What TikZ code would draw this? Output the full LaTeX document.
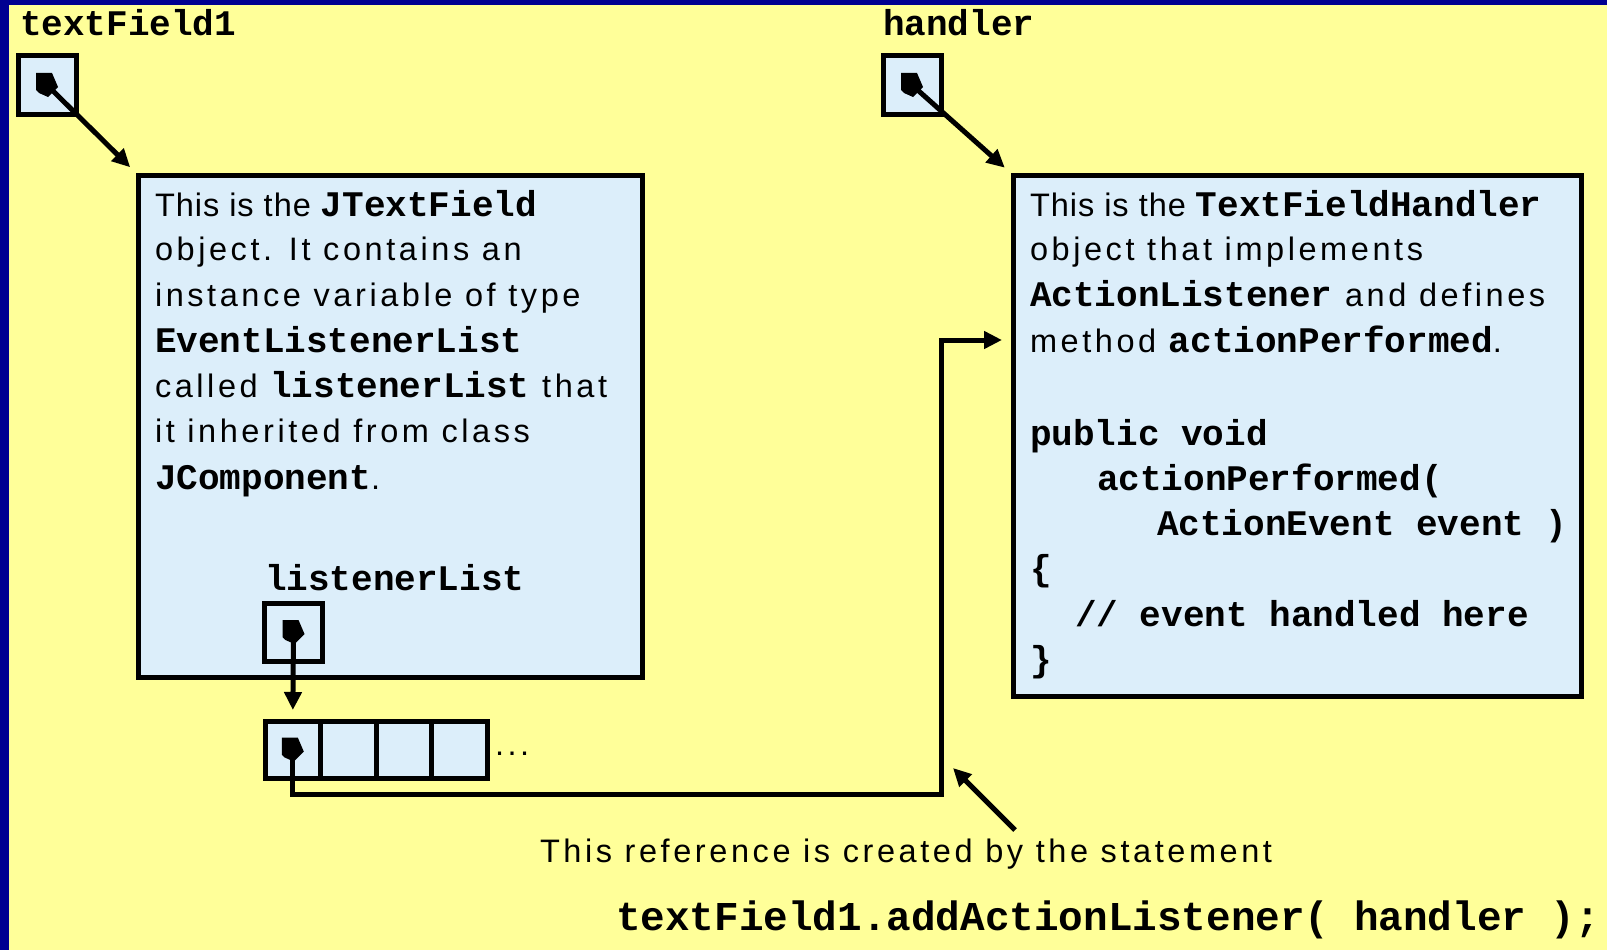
\documentclass[tikz,border=0pt]{standalone}
\usepackage{fontspec}
\setmainfont{Liberation Sans}
\setmonofont{Liberation Mono}
\newfontfamily\sansls[LetterSpace=11]{Liberation Sans}
\newfontfamily\sanslite[LetterSpace=3]{Liberation Sans}
\usetikzlibrary{arrows.meta,calc}
\definecolor{bgyellow}{RGB}{255,255,153}
\definecolor{boxblue}{RGB}{220,238,250}
\definecolor{navyedge}{RGB}{0,0,145}
\newcommand\jv[1]{{\fontsize{36}{45.5}\selectfont\ttfamily\bfseries #1}}
\tikzset{
  refbox/.style={draw, line width=5pt, fill=boxblue, minimum width=58pt, minimum height=58pt, inner sep=0pt, outer sep=0pt},
  cellbox/.style={draw, line width=5pt, fill=boxblue, minimum width=55.5pt, minimum height=57pt, inner sep=0pt, outer sep=0pt},
  objbox/.style={draw, line width=5pt, fill=boxblue, anchor=north west, inner sep=0pt, outer sep=0pt},
  txt/.style={anchor=base west, inner sep=0pt, outer sep=0pt, font=\fontsize{32.5}{45.5}\selectfont},
  arr/.style={line width=5pt, -{Triangle[length=18pt,width=17pt]}},
  pics/ptr/.style={code={\fill[black] (-11,-12) -- (5,-12) -- (11,2) -- (1,12) -- (-8,8) -- (-11,5) -- cycle;}}
}
\begin{document}
\begin{tikzpicture}[x=1pt,y=-1pt]
\useasboundingbox (0,0) rectangle (1607,950);
\fill[navyedge] (0,0) rectangle (1607,950);
\fill[bgyellow] (9,5) rectangle (1607,950);

% labels
\node[txt] (lblTF) at (20,36) {\jv{textField1}};
\node[txt] (lblH) at (883,36) {\jv{handler}};

% object boxes
\node[objbox, minimum width=504pt, minimum height=502pt] (box1) at (138,175) {};
\node[objbox, minimum width=568pt, minimum height=521pt] (box2) at (1013,175) {};

% box 1 text
\node[txt] (a1) at (155,216) {\sanslite This is the \jv{JTextField}};
\node[txt] (a2) at (155,260) {\sansls object. It contains an};
\node[txt] (a3) at (155,306) {\sansls instance variable of type};
\node[txt] (a4) at (155,352) {\jv{EventListenerList}};
\node[txt] (a5) at (155,397) {\sansls called \jv{listenerList} that};
\node[txt] (a6) at (155,442) {\sansls it inherited from class};
\node[txt] (a7) at (155,489) {\jv{JComponent}.};
\node[txt] (lblLL) at (265,590) {\jv{listenerList}};

% box 2 text
\node[txt] (b1) at (1030,216) {\sanslite This is the \jv{TextFieldHandler}};
\node[txt] (b2) at (1030,260) {\sansls object that implements};
\node[txt] (b3) at (1030,306) {\sansls \jv{ActionListener} and defines};
\node[txt] (b4) at (1030,352) {\sansls method \jv{actionPerformed}.};
\node[txt] (b5) at (1030,445) {\jv{public void}};
\node[txt] (b6) at (1097,490) {\jv{actionPerformed(}};
\node[txt] (b7) at (1157,535) {\jv{ActionEvent event )}};
\node[txt] (b8) at (1030,580) {\jv{\{}};
\node[txt] (b9) at (1075,626) {\jv{// event handled here}};
\node[txt] (b10) at (1030,671) {\jv{\}}};

% reference boxes
\node[refbox] (p1) at (47,85) {};
\node[refbox] (p2) at (912,85) {};
\node[refbox] (lp) at (293.5,632) {};

% array
\node[cellbox] (c1) at (292.75,749.5) {};
\node[cellbox] (c2) at (348.25,749.5) {};
\node[cellbox] (c3) at (403.75,749.5) {};
\node[cellbox] (c4) at (459.25,749.5) {};
\node[txt] (dots) at (495,755) {\sansls ...};

% bottom text
\node[txt] (note) at (540,862) {\sansls This reference is created by the statement};
\node[txt] (stmt) at (616,930) {\fontsize{41}{48}\selectfont\ttfamily\bfseries textField1.addActionListener( handler );};

% connectors
\draw[arr, shorten >=11pt] (p1.center) -- (box1.north west);
\draw[arr, shorten >=11pt] (p2.center) -- (box2.north west);
\draw[arr, shorten >=11pt] (lp.center) -- (c1.north);
\coordinate (k1) at (941,794);
\coordinate (k2) at (941,340);
\draw[arr, shorten >=11pt] (c1.center) |- (k1) -- (k2) -- (k2 -| box2.west);
\coordinate (rt) at (1015,830);
\coordinate (rh) at (953,768);
\draw[arr] (rt) -- (rh);

% pointer markers
\pic at (p1.center) {ptr};
\pic at (p2.center) {ptr};
\pic at (lp.center) {ptr};
\pic at (c1.center) {ptr};
\end{tikzpicture}
\end{document}
